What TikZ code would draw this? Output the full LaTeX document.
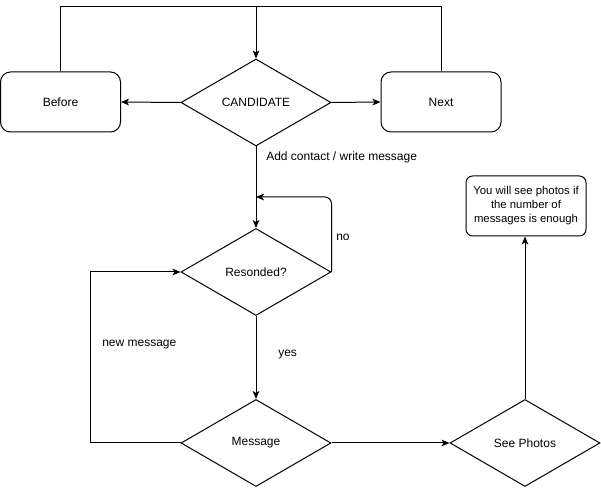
\documentclass[tikz,border=0pt]{standalone}
\usepackage{fontspec}
\setmainfont{Liberation Sans}
\usetikzlibrary{shapes.geometric,arrows.meta}
\begin{document}
\begin{tikzpicture}[x=0.75pt,y=-0.75pt,
  every node/.style={font=\fontsize{9}{11}\selectfont},
  box/.style={draw,line width=0.75pt,rounded corners=7.5pt,minimum width=90pt,minimum height=45pt,inner sep=0pt},
  note/.style={draw,line width=0.75pt,rounded corners=5pt,minimum width=90pt,minimum height=45pt,inner sep=0pt,align=center,font=\fontsize{8.5}{10.5}\selectfont},
  choice/.style={draw,diamond,line width=0.75pt,inner sep=0pt,aspect=1.72,minimum width=112.5pt,minimum height=65.25pt},
  link/.style={line width=0.75pt,-{Stealth[length=6pt,width=5pt,inset=1.5pt]}},
  plain/.style={line width=0.75pt},
  lbl/.style={inner sep=0pt,anchor=west}]
\useasboundingbox (0,0) rectangle (601,488);

% boxes and decisions
\node[box] (before) at (60.5,102) {Before};
\node[choice] (cand) at (256,102.5) {CANDIDATE};
\node[box] (next) at (441,102) {Next};
\node[choice] (resp) at (256,272) {Resonded?};
\node[choice] (msg) at (256,443) {Message};
\node[choice] (photos) at (525,443) {See Photos};
\node[note] (hint) at (526,206) {You will see photos if\\the number of\\messages is enough};

% helper points for the routed connectors
\coordinate (top) at (256,7);
\coordinate (loopy) at (0,197);
\coordinate (leftx) at (90,0);

% navigation back to the candidate
\draw[plain] (before.north) |- (top);
\draw[plain] (next.north) |- (top);
\draw[link] (top) -- (cand.north);
\draw[link] (cand.west) -- (before.east);
\draw[link] (cand.east) -- (next.west);

% main flow
\draw[link] (cand.south) -- (resp.north);
\node[lbl] (addlbl) at (266,157) {Add contact / write message};
\draw[link,rounded corners=5pt] (resp.east) -- (resp.east |- loopy) -- (256,197);
\node[lbl] (nolbl) at (336,237) {no};
\draw[link] (resp.south) -- (msg.north);
\node[lbl] (yeslbl) at (278,355) {yes};
\draw[link] (msg.west) -- (leftx |- msg.west) |- (resp.west);
\node[lbl] (newlbl) at (102,345) {new message};
\draw[link] (msg.east) -- (photos.west);
\draw[link] (photos.north) -- (hint.south -| photos.north);
\end{tikzpicture}
\end{document}
